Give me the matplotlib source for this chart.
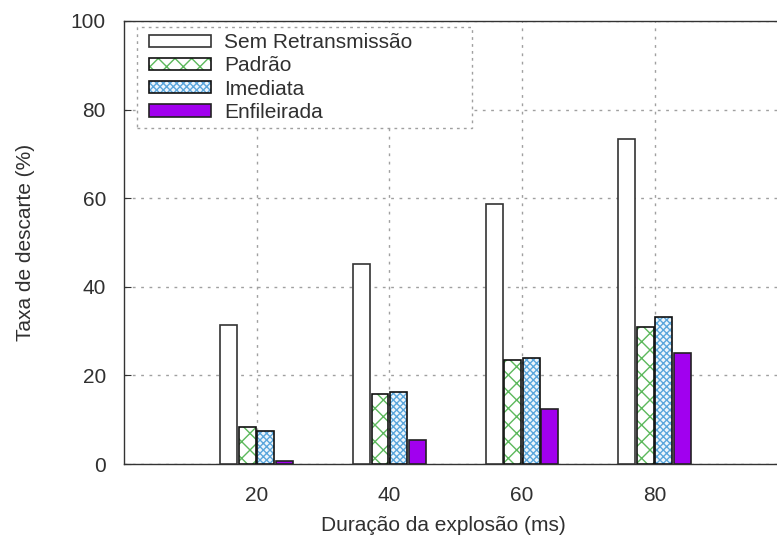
import numpy as np
import matplotlib
matplotlib.use('Agg')
import matplotlib.pyplot as plt
from matplotlib.legend_handler import HandlerTuple, HandlerPatch
from matplotlib.patches import Rectangle

plt.rcParams['font.family'] = ['Liberation Sans', 'DejaVu Sans']

# dados
duracoes = [20, 40, 60, 80]
sem_retx = [31.4, 45.1, 58.6, 73.4]
padrao = [8.4, 15.9, 23.5, 30.9]
imediata = [7.5, 16.2, 23.9, 33.1]
enfileirada = [0.7, 5.4, 12.4, 25.1]
rotulos = ['Sem Retransmissão', 'Padrão', 'Imediata', 'Enfileirada']

fig = plt.figure(figsize=(7.77, 5.43), dpi=100)
ax = fig.add_axes([124/777, 79/543, 663.3/777, 443/543])

x = np.array(duracoes, dtype=float)
larg = 2.55
desloc = [-4.2, -1.4, 1.4, 4.2]
cor_txt = '#303030'
fs = 15

series = [sem_retx, padrao, imediata, enfileirada]
# (preenchimento, cor da borda, hachura, cor da hachura)
estilos = [
    ('white', '#333333', None, None),
    ('white', '#111111', 'xx', '#5cb85c'),
    ('#eef6fc', '#111111', 'xxxxx', '#5aa6dc'),
    ('#a100ef', '#222222', None, None),
]
handles = []
for s, d, (fc, ec, hc, hcor), nome in zip(series, desloc, estilos, rotulos):
    if hc:
        # hachura colorida por baixo, contorno escuro por cima
        b1 = ax.bar(x + d, s, larg, color=fc, edgecolor=hcor, hatch=hc,
                    linewidth=0, zorder=3)
        b2 = ax.bar(x + d, s, larg, fill=False, edgecolor=ec, linewidth=1.2,
                    zorder=4)
        handles.append((b1[0], b2[0]))
    else:
        b = ax.bar(x + d, s, larg, color=fc, edgecolor=ec, linewidth=1.2,
                   zorder=3)
        handles.append(b[0])

ax.set_xlim(0, 100)
ax.set_ylim(0, 100)
ax.set_xticks(duracoes)
ax.set_yticks(range(0, 101, 20))
ax.grid(True, color='#a0a0a0', linestyle=(0, (2, 4)), linewidth=1.0, zorder=0)
ax.set_axisbelow(True)
ax.tick_params(direction='in', length=5, color='#333333', labelsize=fs,
               labelcolor=cor_txt)
ax.tick_params(axis='x', pad=16)
ax.tick_params(axis='y', pad=13)
for sp in ax.spines.values():
    sp.set_color('#333333')
    sp.set_linewidth(1.0)

ax.set_ylabel('Taxa de descarte (%)', fontsize=fs, color=cor_txt)
ax.set_xlabel('Duração da explosão (ms)', fontsize=fs, color=cor_txt)
ax.yaxis.set_label_coords(-0.134, 0.5)
ax.xaxis.set_label_coords(0.482, -0.118)

# caixas da legenda um pouco afastadas da borda
hmap = {tuple: HandlerTuple(ndivide=1, xpad=0.29),
        Rectangle: HandlerPatch(xpad=0.29)}
topo = 1 - 27/543
leg = ax.legend(handles, rotulos, handler_map=hmap,
                loc='upper left', bbox_to_anchor=(137/777, topo - 0.3, 335/777, 0.3),
                bbox_transform=fig.transFigure, mode='expand', fontsize=fs,
                handlelength=3.27, handleheight=0.53, handletextpad=0.62,
                labelspacing=0.2, borderpad=0.3, fancybox=False,
                framealpha=1, borderaxespad=0)
leg.get_frame().set_edgecolor('#a0a0a0')
leg.get_frame().set_linestyle((0, (2, 3)))
leg.get_frame().set_linewidth(1.0)
for t in leg.get_texts():
    t.set_color(cor_txt)

fig.savefig('out.png', dpi=100)
